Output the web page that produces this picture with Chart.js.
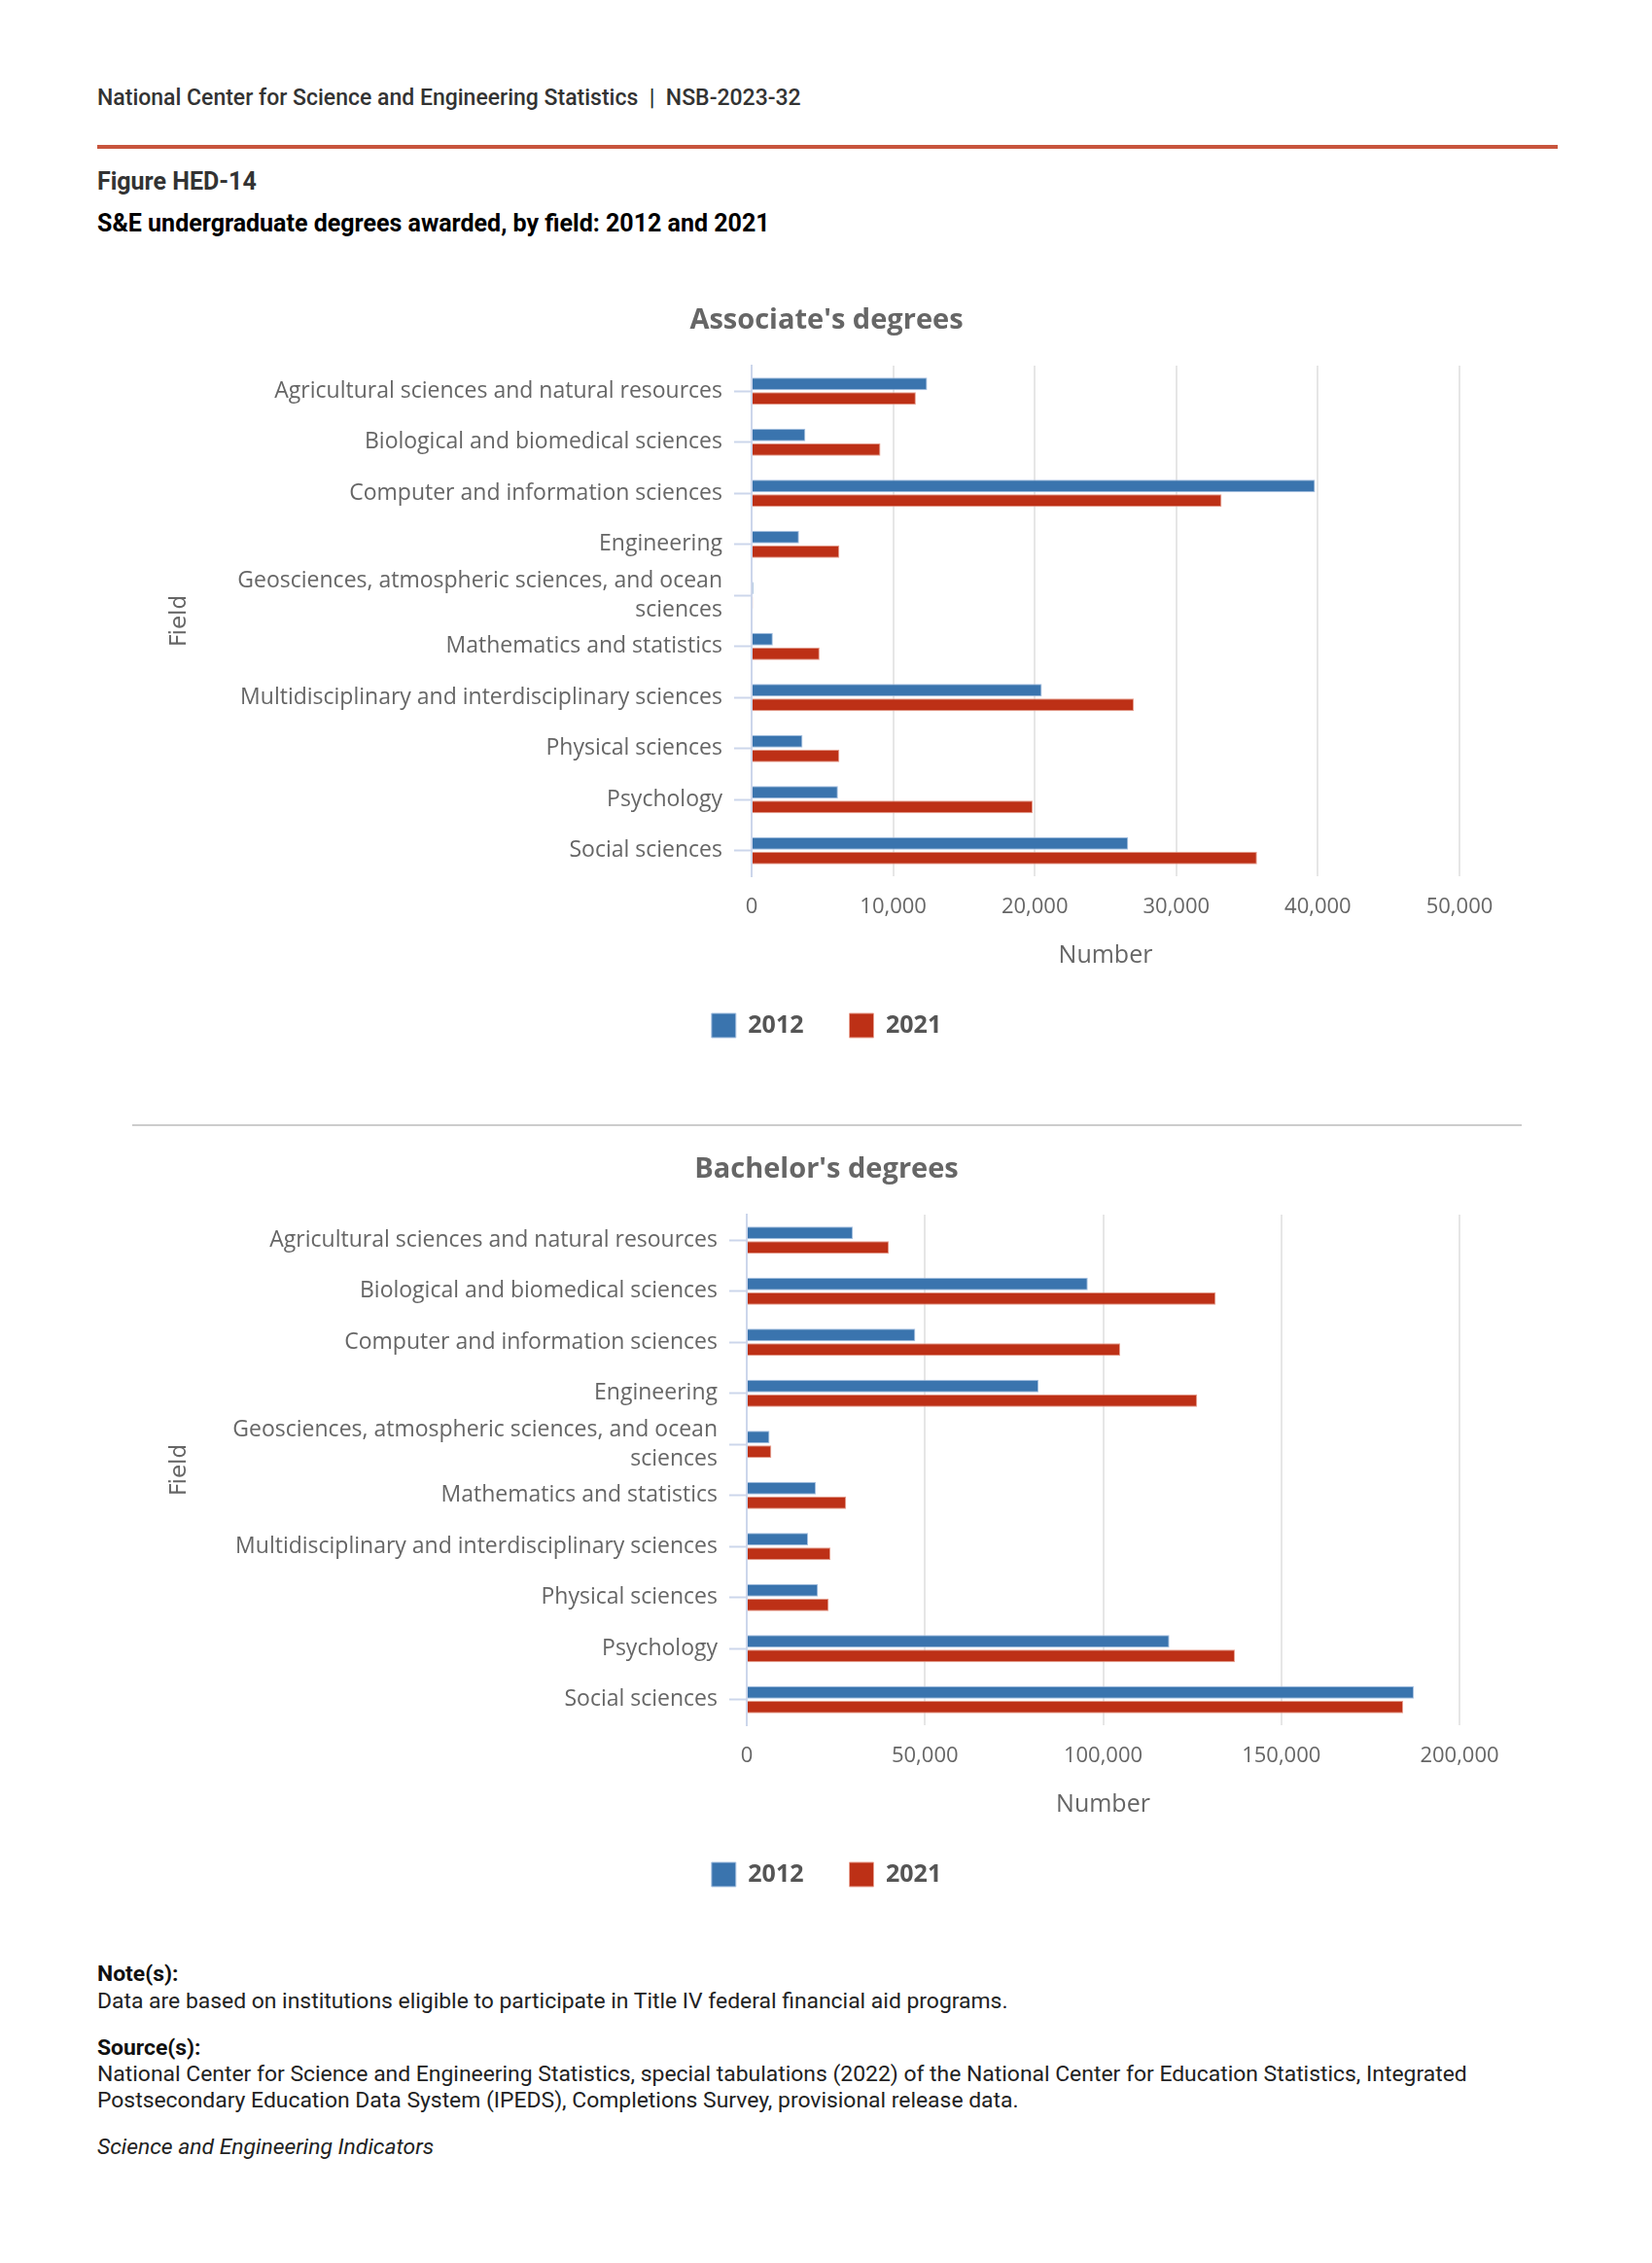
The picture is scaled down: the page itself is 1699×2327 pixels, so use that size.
<!DOCTYPE html>
<html><head><meta charset="utf-8">
<script src="https://cdn.jsdelivr.net/npm/chart.js@4"></script>
<style>
html,body{margin:0;padding:0;background:#fff;}
body{width:1699px;height:2327px;position:relative;font-family:Roboto,sans-serif;}
.t{position:absolute;left:100px;white-space:nowrap;font-size:22.9px;line-height:30px;color:#222;}
canvas{position:absolute;}
</style></head><body>
<div class="t" style="top:86px;font-weight:500;color:#333;font-size:23px;">National Center for Science and Engineering Statistics &nbsp;|&nbsp; NSB-2023-32</div>
<div style="position:absolute;left:100px;top:149px;width:1502px;height:4px;background:#c8553d;"></div>
<div class="t" style="top:172px;font-weight:700;color:#333;font-size:25px;">Figure HED-14</div>
<div class="t" style="top:215px;font-weight:700;color:#000;font-size:25px;">S&amp;E undergraduate degrees awarded, by field: 2012 and 2021</div>
<canvas id="c1" width="1440" height="786" style="left:130px;top:291px;width:1440px;height:786px;"></canvas>
<div style="position:absolute;left:136px;top:1156px;width:1429px;height:2px;background:#ccc;"></div>
<canvas id="c2" width="1440" height="786" style="left:130px;top:1164px;width:1440px;height:786px;"></canvas>
<div class="t" style="top:2015px;font-weight:700;color:#111;">Note(s):</div>
<div class="t" style="top:2043px;">Data are based on institutions eligible to participate in Title IV federal financial aid programs.</div>
<div class="t" style="top:2091px;font-weight:700;color:#111;">Source(s):</div>
<div class="t" style="top:2118px;">National Center for Science and Engineering Statistics, special tabulations (2022) of the National Center for Education Statistics, Integrated</div>
<div class="t" style="top:2145px;">Postsecondary Education Data System (IPEDS), Completions Survey, provisional release data.</div>
<div class="t" style="top:2193px;font-style:italic;">Science and Engineering Indicators</div>
<script>
const fields = [
  "Agricultural sciences and natural resources",
  "Biological and biomedical sciences",
  "Computer and information sciences",
  "Engineering",
  ["Geosciences, atmospheric sciences, and ocean", "sciences"],
  "Mathematics and statistics",
  "Multidisciplinary and interdisciplinary sciences",
  "Physical sciences",
  "Psychology",
  "Social sciences"
];
const years = ["2012", "2021"];
const assoc2012 = [12400, 3800, 39800, 3350, 120, 1500, 20500, 3600, 6100, 26600];
const assoc2021 = [11600, 9100, 33200, 6200, 90, 4800, 27000, 6200, 19850, 35700];
const bach2012 = [29800, 95700, 47300, 81900, 6400, 19400, 17200, 20000, 118600, 187200];
const bach2021 = [39900, 131600, 104800, 126400, 6900, 27900, 23500, 23000, 137000, 184200];
const assocAxis = {max: 50000, step: 10000};
const bachAxis = {max: 200000, step: 50000};

const BLUE = '#3a74ae', BLUE_B = '#a8c2e2';
const RED = '#bd3016', RED_B = '#e8a090';

function makeChart(id, title, d12, d21, axis, yWidth) {
  new Chart(document.getElementById(id), {
    type: 'bar',
    data: {
      labels: fields,
      datasets: [
        {label: years[0], data: d12, backgroundColor: BLUE, borderColor: BLUE_B, borderWidth: 1, categoryPercentage: 0.57, barPercentage: 0.86},
        {label: years[1], data: d21, backgroundColor: RED, borderColor: RED_B, borderWidth: 1, categoryPercentage: 0.57, barPercentage: 0.86}
      ]
    },
    options: {
      indexAxis: 'y',
      responsive: false,
      animation: false,
      devicePixelRatio: 1,
      layout: {padding: 0},
      plugins: {
        title: {display: true, text: title, color: '#666',
          font: {family: 'Open Sans', size: 29, weight: 'bold', lineHeight: 1.2},
          padding: {top: 21.6, bottom: 28.6}},
        legend: {position: 'bottom',
          labels: {boxWidth: 25, boxHeight: 25, padding: 47, color: '#555',
            font: {family: 'Open Sans', size: 25, weight: 'bold'}}},
        tooltip: {enabled: false}
      },
      scales: {
        x: {
          min: 0, max: axis.max,
          ticks: {stepSize: axis.step, padding: 18.8, color: '#666',
            font: {family: 'Open Sans', size: 22, lineHeight: 1.2},
            callback: v => v.toLocaleString('en-US')},
          grid: {color: '#e6e6e6', lineWidth: 2, drawTicks: false},
          border: {display: false},
          title: {display: true, text: 'Number', color: '#666',
            font: {family: 'Open Sans', size: 25, lineHeight: 1},
            padding: {top: 20, bottom: 0}},
          afterFit: s => { s.height = 94; }
        },
        y: {
          ticks: {autoSkip: false, padding: 12, color: '#666',
            font: {family: 'Open Sans', size: 23, lineHeight: 1.3}},
          grid: {drawOnChartArea: false, offset: false, tickLength: 18, tickColor: '#ccd6eb', tickWidth: 2},
          border: {color: '#ccd6eb', width: 2},
          title: {display: true, text: 'Field', color: '#666',
            font: {family: 'DejaVu Sans', size: 23, lineHeight: 1.2},
            padding: {top: 41.2, bottom: 0}},
          afterFit: s => { s.width = yWidth; }
        },
        yRight: {
          type: 'linear', position: 'right', display: true,
          ticks: {display: false},
          grid: {display: false, drawTicks: false},
          border: {display: false},
          afterFit: s => { s.width = 69; }
        }
      }
    }
  });
}
makeChart('c1', "Associate's degrees", assoc2012, assoc2021, assocAxis, 643);
makeChart('c2', "Bachelor's degrees", bach2012, bach2021, bachAxis, 638);
</script>
</body></html>
